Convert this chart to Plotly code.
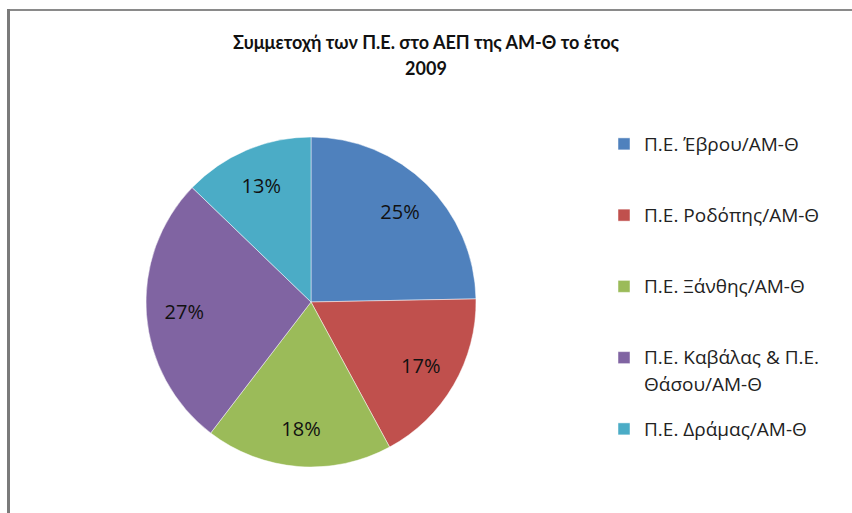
import plotly.graph_objects as go

# ---- data ----
categories = [
    "Π.Ε. Έβρου/ΑΜ-Θ",
    "Π.Ε. Ροδόπης/ΑΜ-Θ",
    "Π.Ε. Ξάνθης/ΑΜ-Θ",
    "Π.Ε. Καβάλας & Π.Ε.<br>Θάσου/ΑΜ-Θ",
    "Π.Ε. Δράμας/ΑΜ-Θ",
]
shares = [24.7, 17.4, 18.3, 26.8, 12.8]
colors = ["#4F81BD", "#C0504D", "#9BBB59", "#8064A2", "#4BACC6"]
title_lines = ["Συμμετοχή των Π.Ε. στο ΑΕΠ της ΑΜ-Θ το έτος", "2009"]

W, H = 852, 513
FONT = "Open Sans, Lato, sans-serif"
TITLE_FONT = "Lato, Open Sans, sans-serif"

# legend labels: visible text slightly larger, wrapped lines a bit further
# apart, padded to three lines so entries are spaced like the original
def pad(label, lines=3):
    parts = label.split("<br>")
    shown = []
    for i, p in enumerate(parts):
        style = "font-size:19px" + (";baseline-shift:-4px" if i > 0 else "")
        shown.append('<span style="%s">%s</span>' % (style, p))
    return "<br>".join(shown) + "<br>\u00a0" * (lines - len(parts))

legend_labels = [pad(c) for c in categories]
title_text = title_lines[0] + '<br><span style="baseline-shift:-3px">' + title_lines[1] + "</span>"

# pie geometry (in paper fractions, margins are zero)
cx, cy, r = 311, 302, 165
dom_x = [(cx - r) / W, (cx + r) / W]
dom_y = [1 - (cy + r) / H, 1 - (cy - r) / H]

fig = go.Figure()
fig.add_trace(go.Pie(
    labels=legend_labels,
    values=shares,
    sort=False,
    direction="clockwise",
    rotation=0,
    marker=dict(colors=colors, line=dict(color="rgba(255,255,255,0.6)", width=0.8)),
    textinfo="none",
    hoverinfo="percent",
    domain=dict(x=dom_x, y=dom_y),
    showlegend=True,
))
# label layer: same slices, ring-shaped so percentages sit toward the rim
fig.add_trace(go.Pie(
    labels=legend_labels,
    values=shares,
    sort=False,
    direction="clockwise",
    rotation=0,
    hole=0.54,
    marker=dict(colors=["rgba(0,0,0,0)"] * len(shares), line=dict(width=0)),
    texttemplate="%{percent:.0%}",
    textposition="inside",
    insidetextorientation="horizontal",
    textfont=dict(family=FONT, size=20, color="#111111"),
    hoverinfo="skip",
    domain=dict(x=dom_x, y=dom_y),
    showlegend=False,
))

fig.update_layout(
    width=W, height=H,
    margin=dict(l=0, r=0, t=0, b=0),
    paper_bgcolor="white",
    plot_bgcolor="white",
    font=dict(family=FONT, color="#1a1a1a"),
    title=dict(
        text=title_text,
        x=0.5, xanchor="center",
        y=1 - 49 / H, yanchor="top", yref="container",
        font=dict(family=TITLE_FONT, size=18, color="#111111", weight="bold"),
    ),
    legend=dict(
        x=604 / W, xanchor="left",
        y=1 - 126 / H, yanchor="top",
        valign="top",
        font=dict(family=FONT, size=17.5, color="#222222"),
        bgcolor="rgba(0,0,0,0)",
        traceorder="normal",
    ),
    shapes=[
        dict(type="line", xref="paper", yref="paper",
             x0=7 / W, x1=1, y0=1 - 10 / H, y1=1 - 10 / H,
             line=dict(color="#8a8a8a", width=2)),
        dict(type="line", xref="paper", yref="paper",
             x0=8.5 / W, x1=8.5 / W, y0=0, y1=1 - 9 / H,
             line=dict(color="#7a7a7a", width=3)),
    ],
)

fig.write_html("out.html", config={"displayModeBar": False},
               post_script="document.body.style.margin='0';")
